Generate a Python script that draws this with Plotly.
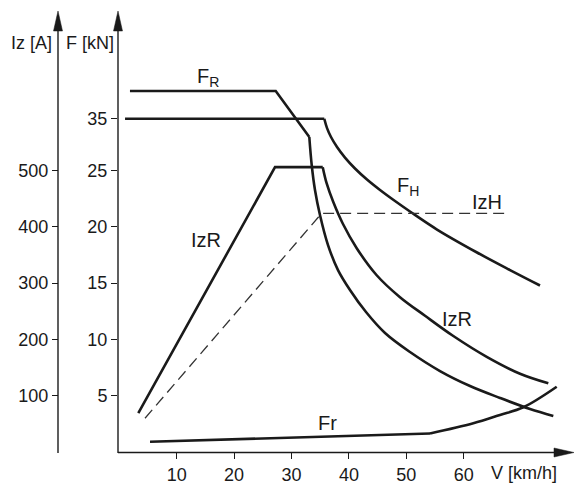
import plotly.graph_objects as go

# ---- data ----
# F_R : tractive force curve (kN) vs V (km/h)
FR_v = [1.86, 27.25, 33.10, 33.52, 34.09, 34.96, 36.36, 38.10, 40.19, 42.98, 46.29, 50.64, 55.87, 61.10, 66.32, 71.55, 75.61]
FR_f = [32.06, 32.06, 27.98, 25.49, 23.27, 21.05, 18.38, 16.16, 14.39, 12.43, 10.57, 8.88, 7.19, 5.86, 4.80, 3.82, 3.20]
FR_knee = 2  # straight part ends / curved part starts

# F_H (kN)
FH_v = [1.0, 35.71, 36.19, 36.88, 37.93, 39.32, 41.06, 43.15, 45.42, 48.03, 50.64, 55.35, 62.32, 68.07, 73.29]
FH_f = [29.6, 29.6, 28.77, 27.98, 27.09, 26.15, 25.18, 24.20, 23.27, 22.29, 21.36, 19.76, 17.72, 16.16, 14.79]
FH_knee = 1

# IzR (A)
IzR_v = [3.31, 27.13, 35.44, 36.13, 37.28, 38.97, 41.36, 44.84, 48.90, 53.26, 58.19, 64.01, 69.81, 74.74]
IzR_a = [69, 506, 506, 477, 444, 405, 362, 314, 275, 242, 206, 169, 139, 122]
IzR_knee = 2

# IzH (A), dashed
IzH_v = [4.48, 35.26, 67.2]
IzH_a = [60, 424, 424]

# Fr : running resistance (kN)
Fr_v = [5.35, 54.13, 61.67, 66.32, 70.38, 76.2]
Fr_f = [0.91, 1.64, 2.55, 3.29, 3.97, 5.80]
Fr_knee = 1

# axis ticks
x_ticks = [10, 20, 30, 40, 50, 60]
F_tickvals = [5, 10, 15, 20, 25, 29.6]
F_ticktext = ["5", "10", "15", "20", "25", "35"]
Iz_ticks = [100, 200, 300, 400, 500]
IZ_PER_F = 20  # 100 A on the Iz scale sits level with 5 kN

# ---- figure ----
FONT = "Liberation Sans, Arial, sans-serif"
INK = "#1a1a1a"
W, H = 574, 484
ML, MR, MT, MB = 50, 8, 20, 32
plot_left_px = 118
dom0 = (plot_left_px - ML) / (W - ML - MR)
iz_pos = (58 - ML) / (W - ML - MR)

x_range = [-0.226, 77.82]
y_range = [0, 38.37]

fig = go.Figure()


def add_curve(v, y, knee, yaxis="y", width=2.6):
    ln = dict(color=INK, width=width)
    fig.add_trace(go.Scatter(x=v[:knee + 1], y=y[:knee + 1], mode="lines",
                             line=dict(ln, shape="linear"), yaxis=yaxis,
                             showlegend=False, hoverinfo="skip"))
    if len(v) > knee + 1:
        fig.add_trace(go.Scatter(x=v[knee:], y=y[knee:], mode="lines",
                                 line=dict(ln, shape="spline", smoothing=1.0),
                                 yaxis=yaxis, showlegend=False, hoverinfo="skip"))


add_curve(FR_v, FR_f, FR_knee)
add_curve(FH_v, FH_f, FH_knee)
add_curve(IzR_v, IzR_a, IzR_knee, yaxis="y2")
fig.add_trace(go.Scatter(x=IzH_v, y=IzH_a, mode="lines", yaxis="y2",
                         line=dict(color="#333333", width=1.3, dash="11px,6px"),
                         showlegend=False, hoverinfo="skip"))
add_curve(Fr_v, Fr_f, Fr_knee)

tickfont = dict(family=FONT, size=18, color=INK)
common_ax = dict(ticks="outside", ticklen=6, tickwidth=1.3, tickcolor=INK,
                 showgrid=False, zeroline=False, showline=False,
                 tickfont=tickfont, automargin=False, fixedrange=True)

fig.update_layout(
    width=W, height=H,
    margin=dict(l=ML, r=MR, t=MT, b=MB),
    paper_bgcolor="white", plot_bgcolor="white",
    xaxis=dict(domain=[dom0, 1], range=x_range, tickvals=x_ticks,
               ticklabelstandoff=0, **common_ax),
    yaxis=dict(range=y_range, tickvals=F_tickvals, ticktext=F_ticktext, **common_ax),
    yaxis2=dict(range=[y_range[0] * IZ_PER_F, y_range[1] * IZ_PER_F],
                tickvals=Iz_ticks, overlaying="y", anchor="free",
                position=iz_pos, side="left", **common_ax),
)


def px_to_paper_x(px):
    return (px - ML) / (W - ML - MR)


def px_to_paper_y(py):
    return (H - MB - py) / (H - MT - MB)


shapes = []
axis_line = dict(color=INK, width=1.4)
fx = px_to_paper_x(118)
ix = px_to_paper_x(58)
shapes.append(dict(type="line", xref="paper", yref="paper", x0=fx, x1=fx,
                   y0=px_to_paper_y(453), y1=px_to_paper_y(25), line=axis_line))
shapes.append(dict(type="line", xref="paper", yref="paper", x0=ix, x1=ix,
                   y0=px_to_paper_y(453), y1=px_to_paper_y(25), line=axis_line))
shapes.append(dict(type="line", xref="paper", yref="paper", x0=fx,
                   x1=px_to_paper_x(560), y0=px_to_paper_y(452.5),
                   y1=px_to_paper_y(452.5), line=axis_line))


def tri(points):
    d = "M " + " L ".join(f"{px_to_paper_x(a)},{px_to_paper_y(b)}" for a, b in points) + " Z"
    return dict(type="path", xref="paper", yref="paper", path=d,
                fillcolor=INK, line=dict(color=INK, width=0.5))


shapes.append(tri([(118, 11), (113.5, 31), (122.5, 31)]))
shapes.append(tri([(58, 11), (53.5, 31), (62.5, 31)]))
shapes.append(tri([(574, 452.5), (554, 448), (554, 457)]))
fig.update_layout(shapes=shapes)

# text labels
tf = dict(family=FONT, size=18, color=INK)
lf = dict(family=FONT, size=20, color=INK)
ann = []
for txt, px, py in [("Iz [A]", 31, 43), ("F [kN]", 90, 43), ("V [km/h]", 523.5, 473)]:
    ann.append(dict(text=txt, xref="paper", yref="paper",
                    x=px_to_paper_x(px), y=px_to_paper_y(py),
                    xanchor="center", yanchor="middle", showarrow=False, font=tf))
ann.append(dict(text="F<sub>R</sub>", x=13.19, y=33.3, xanchor="left", showarrow=False, font=lf))
ann.append(dict(text="F<sub>H</sub>", x=48.0, y=23.62, xanchor="left", showarrow=False, font=lf))
ann.append(dict(text="IzH", x=64.03, y=22.23, showarrow=False, font=lf))
ann.append(dict(text="IzR", x=15.1, y=18.87, showarrow=False, font=lf))
ann.append(dict(text="IzR", x=58.8, y=11.77, showarrow=False, font=lf))
ann.append(dict(text="Fr", x=36.27, y=2.62, showarrow=False, font=lf))
fig.update_layout(annotations=ann)

fig.write_html("out.html",
               config={"displayModeBar": False},
               post_script="document.body.style.margin='0px';"
                           "document.documentElement.style.overflow='hidden';")
